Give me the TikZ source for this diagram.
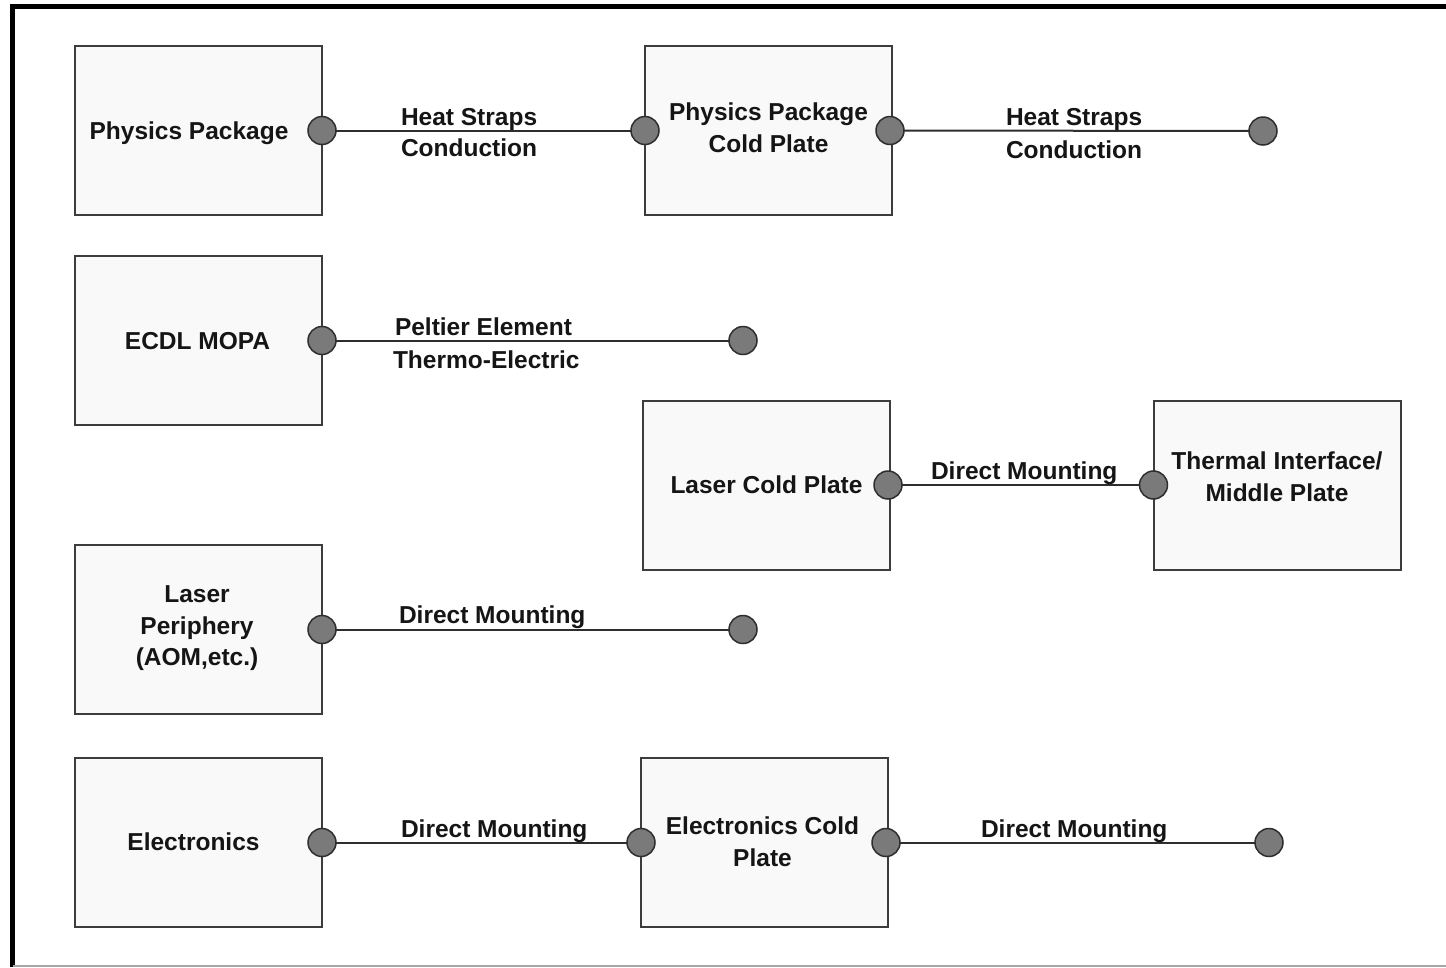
\documentclass[tikz,border=0pt]{standalone}
\usepackage{fontspec}
\setmainfont{Liberation Sans}
\definecolor{boxfill}{HTML}{F9F9F9}
\definecolor{boxline}{HTML}{3C3C3C}
\definecolor{dotfill}{HTML}{7A7A7A}
\definecolor{dotline}{HTML}{2E2E2E}
\definecolor{txt}{HTML}{151515}
\tikzset{
  every node/.style={inner sep=0pt, outer sep=0pt},
  box/.style={draw=boxline, fill=boxfill, line width=2pt, minimum width=247pt, minimum height=169pt},
  boxtext/.style={align=center, text=txt, font=\bfseries\fontsize{24.5}{31.5}\selectfont},
  lbl/.style={anchor=base west, text=txt, font=\bfseries\fontsize{24.5}{31.5}\selectfont},
  dot/.style={circle, draw=dotline, fill=dotfill, line width=1.5pt, minimum size=28pt},
  conn/.style={draw=dotline, line width=2pt},
}
\begin{document}
\begin{tikzpicture}[x=1pt, y=-1pt]
\useasboundingbox (0,0) rectangle (1446,967);
\fill[white] (0,0) rectangle (1446,967);
% frame
\draw[black, line width=5pt] (12.5,967) -- (12.5,6) -- (1446,6);
\draw[gray!70, line width=1.5pt] (12.5,966) -- (1446,966);

% boxes
\node[box] (pp)  at (198.5,130.5) {};
\node[box] (ppc) at (768.5,130.5) {};
\node[box] (ecdl) at (198.5,340.5) {};
\node[box] (lcp) at (766.5,485) {};
\node[box] (tim) at (1277,485) {};
\node[box] (lp)  at (198.5,629.5) {};
\node[box] (el)  at (198.5,842.5) {};
\node[box] (ecp) at (764.5,842.5) {};

% box texts (yshift is in page units: positive = up)
\node[boxtext] (ppT)  at ([xshift=-9.5pt,yshift=-3pt]pp.center) {Physics Package};
\node[boxtext] (ppcT) at ([yshift=3pt]ppc.center) {Physics Package\\Cold Plate};
\node[boxtext] (ecdlT) at ([xshift=-1pt,yshift=-1pt]ecdl.center) {ECDL MOPA};
\node[boxtext] (lcpT) at (lcp.center) {Laser Cold Plate};
\node[boxtext] (timT) at ([yshift=8.5pt]tim.center) {Thermal Interface/\\Middle Plate};
\node[boxtext] (lpT)  at ([xshift=-1.5pt,yshift=1pt]lp.center) {Laser\\Periphery\\(AOM,etc.)};
\node[boxtext] (elT)  at ([xshift=-5pt,yshift=1pt]el.center) {Electronics};
\node[boxtext] (ecpT) at ([xshift=-2pt,yshift=1pt]ecp.center) {Electronics Cold\\Plate};

% dots
\node[dot] (pp-r)  at (pp.east) {};
\node[dot] (ppc-l) at (ppc.west) {};
\node[dot] (ppc-r) at ([xshift=-2pt]ppc.east) {};
\node[dot] (ppc-e) at (1263,131) {};
\node[dot] (ecdl-r) at (ecdl.east) {};
\node[dot] (ecdl-e) at (743,340.5) {};
\node[dot] (lcp-r) at ([xshift=-2pt]lcp.east) {};
\node[dot] (tim-l) at (tim.west) {};
\node[dot] (lp-r)  at (lp.east) {};
\node[dot] (lp-e)  at (743,629.5) {};
\node[dot] (el-r)  at (el.east) {};
\node[dot] (ecp-l) at (ecp.west) {};
\node[dot] (ecp-r) at ([xshift=-2pt]ecp.east) {};
\node[dot] (ecp-e) at (1269,842.5) {};

% connectors
\draw[conn] (pp-r) -- (ppc-l);
\draw[conn] (ppc-r) -- (ppc-e);
\draw[conn] (ecdl-r) -- (ecdl-e);
\draw[conn] (lcp-r) -- (tim-l);
\draw[conn] (lp-r) -- (lp-e);
\draw[conn] (el-r) -- (ecp-l);
\draw[conn] (ecp-r) -- (ecp-e);

% connector labels
\node[lbl] (l1a) at (401,125) {Heat Straps};
\node[lbl] (l1b) at (401,156) {Conduction};
\node[lbl] (l2a) at (1006,125) {Heat Straps};
\node[lbl] (l2b) at (1006,158) {Conduction};
\node[lbl] (l3a) at (395,335) {Peltier Element};
\node[lbl] (l3b) at (393,368) {Thermo-Electric};
\node[lbl] (l4) at (931,479) {Direct Mounting};
\node[lbl] (l5) at (399,623) {Direct Mounting};
\node[lbl] (l6) at (401,837) {Direct Mounting};
\node[lbl] (l7) at (981,837) {Direct Mounting};
\end{tikzpicture}
\end{document}
